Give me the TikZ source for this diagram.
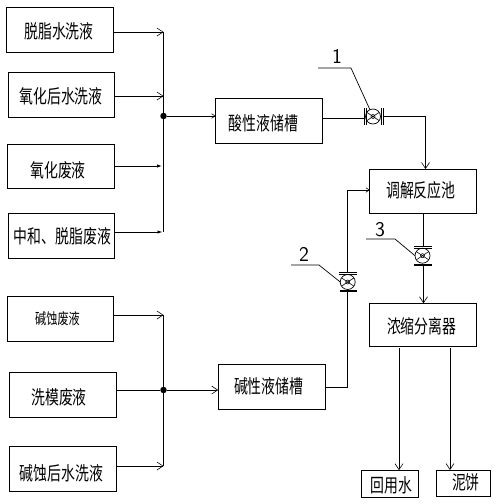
\documentclass[tikz,border=0pt]{standalone}
\usepackage{fontspec}
\setmainfont{Noto Sans CJK SC}[FakeStretch=0.73]
\usetikzlibrary{arrows.meta}
\tikzset{
  box/.style={draw,line width=.9pt,inner sep=0pt,outer sep=0pt,font=\fontsize{19}{19}\selectfont},
  smalltext/.style={font=\fontsize{15.3}{15.3}\selectfont},
  pipe/.style={line width=.9pt},
  feed/.style={pipe,-{Straight Barb[length=6pt,width=8pt,line width=.6pt]}},
  smallfeed/.style={pipe,-{Straight Barb[length=3.5pt,width=4.5pt,line width=.6pt]}},
  dotfeed/.style={pipe,-{Latex[length=5pt,width=3.5pt]}},
  junction/.style={circle,fill=black,inner sep=0pt,minimum size=6.5pt},
  valve/.style={circle,draw,line width=.7pt,inner sep=0pt,outer sep=0pt,minimum size=15pt},
  flange/.style={line width=.8pt},
  leader/.style={line width=.7pt},
  tag/.style={font=\sffamily\fontsize{21}{21}\selectfont,inner sep=0pt}
}
\newcommand{\tx}[3]{\raisebox{\dimexpr -0.38em - #2pt\relax}[0pt][0pt]{\makebox[0pt]{\hspace*{\dimexpr 2\dimexpr #1pt\relax\relax}#3}}}
\newcommand{\valvemark}[1]{%
  \draw[line width=.6pt] (#1) circle (2pt);
  \draw[line width=.6pt] (#1)+(-6,-4) -- +(6,4) (#1)+(-6,4) -- +(6,-4);
}
\begin{document}
\begin{tikzpicture}[x=1pt,y=-1pt]
\useasboundingbox (0,0) rectangle (496,504);
% source boxes
\node[box,minimum width=107pt,minimum height=45pt] (b1) at (60,29.5) {\tx{-1}{1.5}{脱脂水洗液}};
\node[box,minimum width=106pt,minimum height=45pt] (b2) at (61.5,94.5) {\tx{-.5}{1.5}{氧化后水洗液}};
\node[box,minimum width=107pt,minimum height=44pt] (b3) at (61,166) {\tx{-3}{4}{氧化废液}};
\node[box,minimum width=106pt,minimum height=45pt] (b4) at (61,235.5) {\tx{1.5}{.5}{中和、脱脂废液}};
\node[box,smalltext,minimum width=106pt,minimum height=45pt] (b5) at (60.5,318.5) {\tx{-3}{.5}{碱蚀废液}};
\node[box,minimum width=107pt,minimum height=45pt] (b6) at (63,394.5) {\tx{-4}{3}{洗模废液}};
\node[box,minimum width=107pt,minimum height=45pt] (b7) at (63,468.5) {\tx{-1.5}{4.5}{碱蚀后水洗液}};
% process boxes
\node[box,minimum width=107pt,minimum height=45pt] (acid) at (269.2,120.8) {\tx{-5.7}{2}{酸性液储槽}};
\node[box,minimum width=107pt,minimum height=45pt] (alk) at (271.7,386.6) {\tx{-3}{0}{碱性液储槽}};
\node[box,minimum width=107pt,minimum height=44pt] (tj) at (423.4,191) {\tx{-2.5}{-1}{调解反应池}};
\node[box,minimum width=107pt,minimum height=43.5pt] (ns) at (423.4,325) {\tx{-1.7}{1}{浓缩分离器}};
\node[box,minimum width=57pt,minimum height=27pt] (hy) at (390.2,483.7) {\tx{1.5}{1.5}{回用水}};
\node[box,minimum width=53.5pt,minimum height=26.5pt] (nb) at (463.4,483.3) {\tx{2.5}{-.8}{泥饼}};
% bus coordinates
\coordinate (a1) at (163.5,32);
\coordinate (a2) at (163.5,96);
\coordinate (a3) at (163.5,166);
\coordinate (a4) at (163.5,232);
\node[junction] (j1) at (163.5,116) {};
\coordinate (a5) at (163.5,315);
\coordinate (a7) at (163.5,466);
\node[junction] (j2) at (163.5,390) {};
\draw[pipe] (a1) -- (a4);
\draw[pipe] (a5) -- (a7);
\draw[feed] (b1.east |- a1) -- (a1);
\draw[feed] (b2.east |- a2) -- (a2);
\draw[dotfeed] (b3.east |- a3) -- ([xshift=-1.5pt]a3);
\draw[dotfeed] (b4.east |- a4) -- ([xshift=-1pt]a4);
\draw[feed] (b5.east |- a5) -- (a5);
\draw[pipe] (b6.east |- j2) -- (j2);
\draw[feed] (b7.east |- a7) -- (a7);
\draw[smallfeed] (j1) -- (acid.west |- j1);
\draw[feed] (j2) -- (alk.west |- j2);
% valves
\node[valve] (v1) at (373,116.5) {};
\valvemark{v1}
\node[valve] (v2) at (347.7,282) {};
\valvemark{v2}
\node[valve] (v3) at (422.5,255.7) {};
\valvemark{v3}
% flanges
\coordinate (f1a) at (364,118.3); \coordinate (f1b) at (383,116);
\draw[flange] (364,108) -- (364,125) (366,108) -- (366,125) (381,108) -- (381,125) (383,108) -- (383,125);
\coordinate (f2a) at (347.7,272); \coordinate (f2b) at (347.7,291);
\draw[flange] (339,272) -- (357,272) (339,274) -- (357,274);
\draw[line width=1.6pt] (340,291) -- (357,291);
\coordinate (f3a) at (423.5,246); \coordinate (f3b) at (423.5,265);
\draw[flange] (414,246) -- (432,246) (414,248) -- (432,248);
\draw[line width=1.6pt] (414,265) -- (432,265);
% pipes through valves
\draw[pipe] (acid.east |- f1a) -- (f1a);
\coordinate (c1) at (425.5,116);
\draw[pipe] (f1b) -- (c1);
\draw[feed] (c1) -- (c1 |- tj.north);
\coordinate (c2) at (347.7,387);
\coordinate (c3) at (347.7,190);
\draw[pipe] (alk.east |- c2) -- (c2) -- (f2b);
\draw[pipe] (f2a) -- (c3);
\draw[smallfeed] (c3) -- (c3 -| tj.west);
\draw[pipe] (f3a |- tj.south) -- (f3a);
\draw[feed] (f3b) -- (f3b |- ns.north);
\coordinate (c4) at (399,348);
\coordinate (c5) at (450,348);
\draw[feed] (c4) -- (c4 |- hy.north);
\draw[feed] (c5) -- (c5 |- nb.north);
% leaders and tags
\coordinate (l1a) at (318,68); \coordinate (l1b) at (351,68);
\draw[leader] (l1a) -- (l1b) -- (v1);
\coordinate (l2a) at (291,265); \coordinate (l2b) at (319,265);
\draw[leader] (l2a) -- (l2b) -- (v2.west);
\coordinate (l3a) at (366,239); \coordinate (l3b) at (395,239);
\draw[leader] (l3a) -- (l3b) -- (v3.west);
\node[tag] (t1) at (337,56) {1};
\node[tag] (t2) at (304,254) {2};
\node[tag] (t3) at (380,230) {3};
\end{tikzpicture}
\end{document}
